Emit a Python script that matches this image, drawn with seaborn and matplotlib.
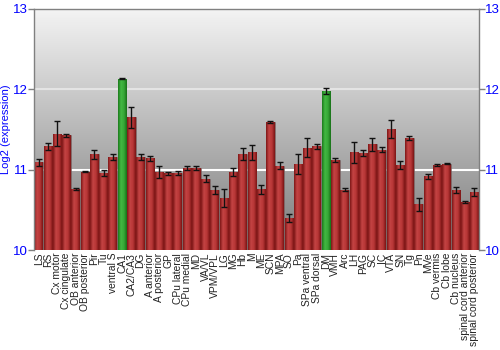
import numpy as np
import pandas as pd
import matplotlib
matplotlib.use("Agg")
import matplotlib.pyplot as plt
import seaborn as sns
from matplotlib.colors import LinearSegmentedColormap

regions = ["LS", "RS", "Cx motor", "Cx cingulate", "OB anterior", "OB posterior", "Pir", "Tu",
           "ventral S", "CA1", "CA2/CA3", "DG", "A anterior", "A posterior", "GP", "CPu lateral",
           "CPu medial", "MD", "VA/VL", "VPM/VPL", "LG", "MG", "Hb", "M", "ME", "SCN", "MPA",
           "SO", "Pa", "SPa ventral", "SPa dorsal", "DM", "VMH", "Arc", "LH", "PAG", "SC", "IC",
           "VTA", "SN", "Tg", "Pn", "MVe", "Cb vermis", "Cb lobe", "Cb nucleus",
           "spinal cord anterior", "spinal cord posterior"]
values = [11.09, 11.29, 11.45, 11.43, 10.76, 10.975, 11.19, 10.96,
          11.16, 12.13, 11.65, 11.155, 11.14, 10.97, 10.955, 10.96,
          11.02, 11.02, 10.89, 10.75, 10.65, 10.97, 11.195, 11.215, 10.755, 11.59, 11.05,
          10.40, 11.07, 11.275, 11.29, 11.98, 11.12, 10.75, 11.215, 11.21, 11.315, 11.25,
          11.51, 11.055, 11.39, 10.57, 10.915, 11.06, 11.075, 10.75,
          10.60, 10.72]
errors = [0.04, 0.045, 0.155, 0.02, 0.01, 0.01, 0.06, 0.04,
          0.04, 0.005, 0.13, 0.035, 0.03, 0.07, 0.02, 0.025,
          0.025, 0.02, 0.04, 0.05, 0.11, 0.05, 0.07, 0.09, 0.055, 0.01, 0.04,
          0.05, 0.12, 0.12, 0.03, 0.035, 0.03, 0.02, 0.13, 0.035, 0.08, 0.035,
          0.11, 0.05, 0.025, 0.08, 0.03, 0.01, 0.01, 0.04,
          0.01, 0.05]
highlight = ["CA1", "DM"]
yticks = [10, 11, 12, 13]

df = pd.DataFrame({"region": regions, "value": values, "err": errors})
df["group"] = ["hi" if r in highlight else "lo" for r in regions]

plt.rcParams["font.family"] = ["Liberation Sans", "DejaVu Sans"]
fig = plt.figure(figsize=(5, 3.5), dpi=100)
ax = fig.add_axes([0.068, 0.2857, 0.89, 0.6886])

# background gradient
bg = LinearSegmentedColormap.from_list("bg", ["#f4f4f4", "#7c7c7c"])
grad = np.linspace(0, 1, 256).reshape(-1, 1)
ax.imshow(grad, aspect="auto", cmap=bg, extent=[0, 1, 0, 1], transform=ax.transAxes,
          zorder=0)

pal = {"hi": "#2f9f2f", "lo": "#b03030"}
sns.barplot(data=df, x="region", y="value", hue="group", palette=pal, dodge=False,
            width=0.93, legend=False, ax=ax, zorder=2, errorbar=None)

ax.set_ylim(10, 13)
ax.set_xlim(-0.5, len(regions) - 0.5)

# horizontal gradient on each bar
redmap = LinearSegmentedColormap.from_list("r", ["#7e1616", "#c44444", "#b83636", "#7a1515"])
greenmap = LinearSegmentedColormap.from_list("g", ["#1b7a1b", "#43b843", "#37a837", "#187018"])
hgrad = np.linspace(0, 1, 64).reshape(1, -1)
for p in ax.patches:
    x0, w = p.get_x(), p.get_width()
    h = p.get_height()
    if h <= 0:
        continue
    fc = p.get_facecolor()
    cm = greenmap if fc[1] > fc[0] else redmap
    im = ax.imshow(hgrad, aspect="auto", cmap=cm, extent=[x0, x0 + w, 10, h],
                   zorder=2.5)
    im.set_clip_path(p)
    p.set_edgecolor("#6a6a6a")
    p.set_linewidth(0.4)

ax.errorbar(np.arange(len(regions)), values, yerr=errors, fmt="none", ecolor="#111111",
            elinewidth=1, capsize=2, capthick=1, zorder=4)

for yv, c in [(11, "#ffffff"), (12, "#e4e4e4")]:
    ax.axhline(yv, color=c, lw=1.5, zorder=1)

ax.set_yticks(yticks)
ax.set_yticklabels([str(t) for t in yticks])
ax.tick_params(axis="y", colors="#808080", labelcolor="#0000ff", labelsize=9.5,
               length=4, width=1, right=True, labelright=True, direction="out", pad=0.5)
ax.tick_params(axis="x", length=0, labelsize=7.4, labelcolor="#222222", pad=2)
plt.setp(ax.get_xticklabels(), rotation=90)
ax.set_xlabel("")
ax.set_ylabel("Log2 (expression)", color="#0000ff", fontsize=8, labelpad=1)

for s in ["left", "right", "top"]:
    ax.spines[s].set_color("#808080")
    ax.spines[s].set_linewidth(1)
ax.spines["bottom"].set_visible(False)

fig.savefig("out.png", dpi=100)
